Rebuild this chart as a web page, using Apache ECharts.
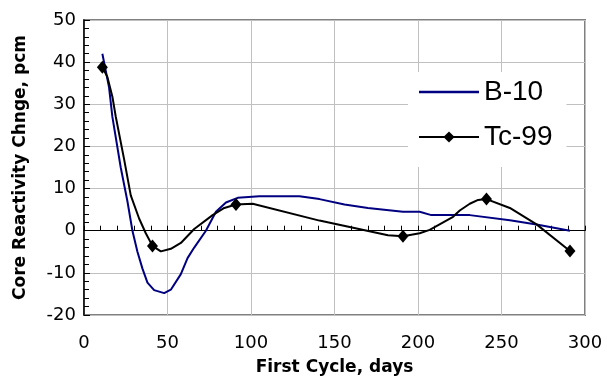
<!DOCTYPE html>
<html>
<head>
<meta charset="utf-8">
<script src="https://cdn.jsdelivr.net/npm/echarts@6/dist/echarts.min.js"></script>
<style>
  html, body { margin: 0; padding: 0; background: #fff; }
  #chart { width: 607px; height: 381px; }
</style>
</head>
<body>
<div id="chart"></div>
<script>
// B-10 curve (days, pcm)
const b10Days = [11, 15, 17, 22, 26, 29, 32, 35, 38, 42, 48, 52, 58, 62, 66, 73, 79, 85, 92, 105, 129, 141, 156, 170, 191, 201, 208, 231, 255, 271, 291]
const b10Vals = [42, 34, 27, 15, 7, 0, -5, -9, -12.3, -14.1, -14.8, -14, -10.3, -6.5, -4, 0, 4.5, 6.7, 7.8, 8.2, 8.2, 7.5, 6.2, 5.4, 4.5, 4.5, 3.7, 3.7, 2.5, 1.5, 0]

// Tc-99 curve, markers only at the computed days
const tcDays = [11, 14, 17, 19, 24, 28, 33, 37, 41, 46, 52, 58, 66, 77, 84, 91, 101, 141, 182, 191, 201, 207, 221, 225, 231, 236, 241, 255, 271, 291]
const tcVals = [38.8, 36.5, 31.8, 27.1, 17, 8.4, 2.9, -0.6, -3.6, -4.9, -4.3, -2.9, 0.4, 3.7, 5.4, 6.2, 6.4, 2.4, -1.1, -1.3, -0.6, 0.2, 3.3, 4.8, 6.4, 7.3, 7.5, 5.4, 1.5, -4.8]
const tcMarkerDays = [11, 41, 91, 191, 241, 291]

const xTicks = [0, 50, 100, 150, 200, 250, 300]
const yTicks = [-20, -10, 0, 10, 20, 30, 40, 50]

const chart = echarts.init(document.getElementById('chart'))

const b10Data = b10Days.map((d, i) => [d, b10Vals[i]])
const tcData = tcDays.map((d, i) => {
  const item = { value: [d, tcVals[i]] }
  if (!tcMarkerDays.includes(d)) item.symbol = 'none'
  return item
})

chart.setOption({
  animation: false,
  grid: {
    left: 84,
    top: 20,
    right: 22,
    bottom: 62,
    show: true,
    borderColor: '#808080',
    borderWidth: 2,
    backgroundColor: '#fff',
  },
  legend: {
    orient: 'vertical',
    left: 408,
    top: 72,
    padding: [6, 14, 16, 10],
    backgroundColor: '#fff',
    itemWidth: 60,
    itemHeight: 14,
    itemGap: 17,
    textStyle: { fontFamily: 'Liberation Sans', fontSize: 28, color: '#000' },
    data: [
      // plain line sample for B-10 (no marker)
      { name: 'B-10', icon: 'path://M0,0 L60,0 L60,2.5 L0,2.5 Z', itemStyle: { color: '#000080' } },
      'Tc-99',
    ],
  },
  xAxis: [
    {
      // zero line with tick marks
      type: 'value',
      min: xTicks[0],
      max: xTicks[xTicks.length - 1],
      interval: 10,
      axisLine: { onZero: true, lineStyle: { color: '#000', width: 1 } },
      axisTick: { show: true, inside: true, length: 5, lineStyle: { color: '#000' } },
      axisLabel: { show: false },
      splitLine: { show: false },
    },
    {
      // bottom labels and vertical gridlines
      type: 'value',
      position: 'bottom',
      min: xTicks[0],
      max: xTicks[xTicks.length - 1],
      interval: 50,
      axisLine: { show: false, onZero: false },
      axisTick: { show: false },
      axisLabel: { margin: 19, fontFamily: 'DejaVu Sans', fontSize: 18, color: '#000' },
      splitLine: { show: true, lineStyle: { color: '#c0c0c0', width: 1 } },
      name: 'First Cycle, days',
      nameLocation: 'middle',
      nameGap: 44,
      nameTextStyle: { fontFamily: 'DejaVu Sans', fontWeight: 'bold', fontSize: 17, color: '#000' },
    },
  ],
  yAxis: {
    type: 'value',
    min: yTicks[0],
    max: yTicks[yTicks.length - 1],
    interval: 10,
    axisLine: { show: true, lineStyle: { color: '#000', width: 1.5 } },
    axisTick: { show: true, inside: true, length: 6, lineStyle: { color: '#000' } },
    minorTick: { show: true, splitNumber: 5, length: 5, lineStyle: { color: '#000' } },
    axisLabel: { margin: 8, fontFamily: 'DejaVu Sans', fontSize: 18, color: '#000' },
    splitLine: { show: true, lineStyle: { color: '#c0c0c0', width: 1 } },
    name: 'Core Reactivity Chnge, pcm',
    nameLocation: 'middle',
    nameGap: 55,
    nameTextStyle: { fontFamily: 'DejaVu Sans', fontWeight: 'bold', fontSize: 17, color: '#000' },
  },
  series: [
    {
      name: 'B-10',
      type: 'line',
      xAxisIndex: 0,
      data: b10Data,
      showSymbol: false,
      symbol: 'none',
      lineStyle: { color: '#000080', width: 2 },
      itemStyle: { color: '#000080' },
    },
    {
      name: 'Tc-99',
      type: 'line',
      xAxisIndex: 0,
      data: tcData,
      symbol: 'diamond',
      symbolSize: [11, 13],
      lineStyle: { color: '#000', width: 2 },
      itemStyle: { color: '#000' },
    },
  ],
})
</script>
</body>
</html>
